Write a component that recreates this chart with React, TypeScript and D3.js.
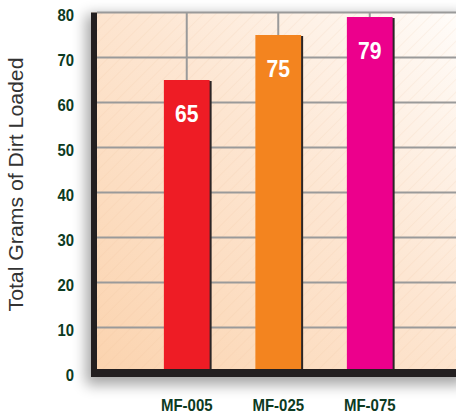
import { useEffect, useRef } from 'react';
import * as d3 from 'd3';

const categories = ['MF-005', 'MF-025', 'MF-075'];
const gramsLoaded = [65, 75, 79];
const barColors = ['#ee1c25', '#f3841f', '#ec008c'];
const yTicks = [0, 10, 20, 30, 40, 50, 60, 70, 80];

const GRID = '#9a9a9a';
const FRAME = '#231f20';
const LABEL = '#0c3a22';
const SANS = '"Liberation Sans", Arial, Helvetica, sans-serif';

const App = () => {
  const svgRef = useRef<SVGSVGElement>(null);

  useEffect(() => {
    if (!svgRef.current) return;
    d3.select(svgRef.current).selectAll('*').remove();

    const width = 456;
    const height = 417;
    const plot = { left: 91, top: 12.5, right: 470, bottom: 377 };
    const frame = 6;

    const svg = d3.select(svgRef.current)
      .attr('width', width)
      .attr('height', height);

    const defs = svg.append('defs');

    const grad = defs.append('linearGradient')
      .attr('id', 'bg')
      .attr('x1', 0).attr('y1', 1).attr('x2', 1).attr('y2', 0);
    grad.append('stop').attr('offset', '0%').attr('stop-color', '#fbd3ae');
    grad.append('stop').attr('offset', '55%').attr('stop-color', '#fde6d2');
    grad.append('stop').attr('offset', '100%').attr('stop-color', '#fffdfb');

    const hatch = defs.append('pattern')
      .attr('id', 'hatch')
      .attr('patternUnits', 'userSpaceOnUse')
      .attr('width', 9).attr('height', 9)
      .attr('patternTransform', 'rotate(45)');
    hatch.append('line')
      .attr('x1', 0).attr('y1', 0).attr('x2', 0).attr('y2', 9)
      .attr('stroke', '#e7b48c').attr('stroke-opacity', 0.25).attr('stroke-width', 1);

    const blur = defs.append('filter')
      .attr('id', 'shadow')
      .attr('x', '-20%').attr('y', '-20%').attr('width', '140%').attr('height', '140%');
    blur.append('feGaussianBlur').attr('stdDeviation', 7);

    // Scales
    const y = d3.scaleLinear().domain([0, 80]).range([372.5, plot.top]);
    const x = d3.scaleBand()
      .domain(categories)
      .range([141, 415.5])
      .paddingInner(0.5)
      .paddingOuter(0.25);
    const cx = (c: string) => (x(c) || 0) + x.bandwidth() / 2;

    // Plot shadow
    svg.append('rect')
      .attr('x', plot.left - 5)
      .attr('y', plot.top + 2)
      .attr('width', plot.right - plot.left)
      .attr('height', plot.bottom - plot.top + 6)
      .attr('fill', '#000')
      .attr('opacity', 0.35)
      .attr('filter', 'url(#shadow)');

    // Background
    svg.append('rect')
      .attr('x', plot.left).attr('y', plot.top)
      .attr('width', plot.right - plot.left).attr('height', plot.bottom - plot.top)
      .attr('fill', 'url(#bg)');
    svg.append('rect')
      .attr('x', plot.left).attr('y', plot.top)
      .attr('width', plot.right - plot.left).attr('height', plot.bottom - plot.top)
      .attr('fill', 'url(#hatch)');

    // Gridlines
    svg.append('g')
      .selectAll('line')
      .data(yTicks.filter(d => d > 0))
      .enter()
      .append('line')
      .attr('x1', plot.left + frame).attr('x2', plot.right)
      .attr('y1', d => y(d)).attr('y2', d => y(d))
      .attr('stroke', GRID).attr('stroke-width', 2);

    svg.append('g')
      .selectAll('line')
      .data(categories)
      .enter()
      .append('line')
      .attr('x1', d => cx(d))
      .attr('x2', d => cx(d))
      .attr('y1', plot.top).attr('y2', plot.bottom)
      .attr('stroke', GRID).attr('stroke-width', 2);

    const data = categories.map((c, i) => ({ c, v: gramsLoaded[i], color: barColors[i] }));

    // Bar shadows
    svg.append('g')
      .selectAll('rect')
      .data(data)
      .enter()
      .append('rect')
      .attr('x', d => (x(d.c) || 0) + 2)
      .attr('y', d => y(d.v) + 1)
      .attr('width', x.bandwidth())
      .attr('height', d => y(0) - y(d.v))
      .attr('fill', '#2b2526');

    // Bars
    svg.append('g')
      .selectAll('rect')
      .data(data)
      .enter()
      .append('rect')
      .attr('x', d => x(d.c) || 0)
      .attr('y', d => y(d.v))
      .attr('width', x.bandwidth())
      .attr('height', d => y(0) - y(d.v))
      .attr('fill', d => d.color);

    // Value labels (condensed look via horizontal scale)
    svg.append('g')
      .selectAll('text')
      .data(data)
      .enter()
      .append('text')
      .attr('transform', d => `translate(${cx(d.c)},${y(d.v) + 42}) scale(0.88,1)`)
      .attr('text-anchor', 'middle')
      .attr('fill', '#fff')
      .attr('font-family', SANS)
      .attr('font-weight', 'bold')
      .attr('font-size', 24)
      .text(d => d.v);

    // Frame
    svg.append('rect')
      .attr('x', plot.left).attr('y', plot.top)
      .attr('width', frame).attr('height', plot.bottom - plot.top)
      .attr('fill', FRAME);
    svg.append('rect')
      .attr('x', plot.left).attr('y', plot.bottom - 8)
      .attr('width', plot.right - plot.left).attr('height', 8)
      .attr('fill', FRAME);

    // Y tick labels
    svg.append('g')
      .selectAll('text')
      .data(yTicks)
      .enter()
      .append('text')
      .attr('transform', d => `translate(74,${y(d) + 8.2}) scale(0.86,1)`)
      .attr('text-anchor', 'end')
      .attr('fill', LABEL)
      .attr('font-family', SANS)
      .attr('font-weight', 'bold')
      .attr('font-size', 17.3)
      .text(d => d);

    // X labels
    svg.append('g')
      .selectAll('text')
      .data(categories)
      .enter()
      .append('text')
      .attr('transform', d => `translate(${cx(d)},410.7) scale(0.92,1)`)
      .attr('text-anchor', 'middle')
      .attr('fill', LABEL)
      .attr('font-family', SANS)
      .attr('font-weight', 'bold')
      .attr('font-size', 16.3)
      .text(d => d);

    // Axis title
    svg.append('text')
      .attr('transform', `translate(23,184.5) rotate(-90)`)
      .attr('text-anchor', 'middle')
      .attr('fill', '#333')
      .attr('font-family', SANS)
      .attr('font-size', 20)
      .attr('textLength', 254)
      .attr('lengthAdjust', 'spacingAndGlyphs')
      .text('Total Grams of Dirt Loaded');
  }, []);

  return (
    <div style={{ position: 'absolute', left: 0, top: 0 }}>
      <svg ref={svgRef} style={{ display: 'block' }} />
    </div>
  );
};

export default App;
